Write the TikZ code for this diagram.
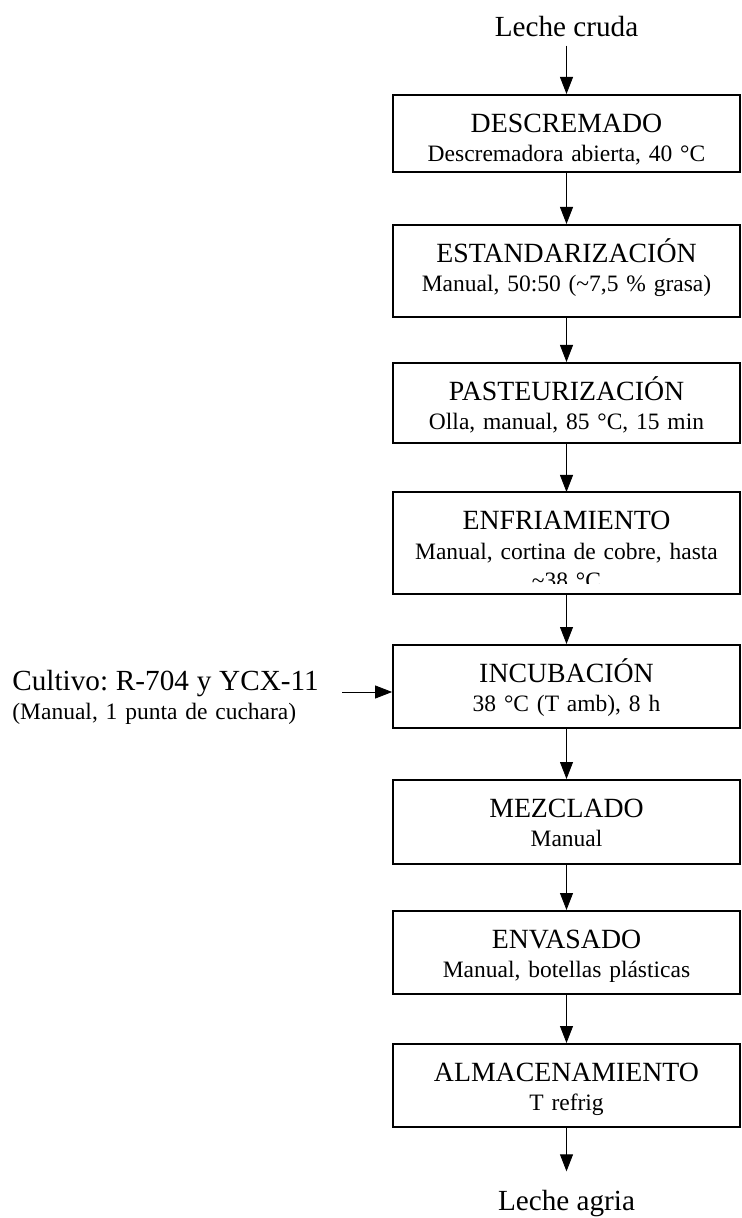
\documentclass[tikz,border=0pt]{standalone}
\usepackage{fontspec}
\setmainfont{Liberation Serif}
\usetikzlibrary{arrows.meta}
\frenchspacing
\newcommand\stagetitle{\fontsize{13.9}{14.75}\selectfont}
\newcommand\stagenote{\fontsize{11.75}{14.75}\selectfont}
\newcommand\flowend{\fontsize{14.6}{15}\selectfont}

\begin{document}
\begin{tikzpicture}[x=0.5pt,y=-0.5pt,>={Triangle[length=8.5pt,width=6.5pt]},
  stage/.style={draw,line width=0.9pt,text width=167pt,inner xsep=3.25pt,inner ysep=0pt,align=center,text height=18.75pt,anchor=north,font=\stagenote},
  io/.style={inner sep=4pt,anchor=base,font=\flowend}]
  \useasboundingbox (0,0) rectangle (741,1218);
  \node[io] (cruda) at (566.5,37) {Leche cruda};
  \node[stage,text depth=19.75pt] (desc) at (566.5,94) {{\stagetitle DESCREMADO}\\Descremadora abierta, 40 °C};
  \node[stage,text depth=27.25pt] (est) at (566.5,224) {{\stagetitle ESTANDARIZACIÓN}\\Manual, 50:50 (\textasciitilde7,5 \% grasa)};
  \node[stage,text depth=21.25pt] (past) at (566.5,362) {{\stagetitle PASTEURIZACIÓN}\\Olla, manual, 85 °C, 15 min};
  \begin{scope}
    \clip (380,480) rectangle (741,583);
    \node[stage,draw=none,outer sep=0pt,text depth=32.25pt] (enf) at (566.5,492) {{\stagetitle ENFRIAMIENTO}\\Manual, cortina de cobre, hasta\\\textasciitilde38 °C};
  \end{scope}
  \draw[line width=0.9pt] (enf.south west) rectangle (enf.north east);
  \node[stage,text depth=22.75pt] (inc) at (566.5,644) {{\stagetitle INCUBACIÓN}\\38 °C (T amb), 8 h};
  \node[stage,text depth=23.25pt] (mez) at (566.5,779) {{\stagetitle MEZCLADO}\\Manual};
  \node[stage,text depth=22.75pt] (env) at (566.5,910) {{\stagetitle ENVASADO}\\Manual, botellas plásticas};
  \node[stage,text depth=22.75pt] (alm) at (566.5,1043) {{\stagetitle ALMACENAMIENTO}\\T refrig};
  \node[io] (agria) at (566.5,1210) {Leche agria};
  \node[text width=200pt,align=left,anchor=north west,inner sep=0pt,text height=10pt,font=\stagenote] (cult) at (12,670) {{\flowend Cultivo: R-704 y YCX-11}\\(Manual, 1 punta de cuchara)};
  \coordinate (cultin) at (342,692);
  \draw[->] (cruda) -- (desc); \draw[->] (desc) -- (est); \draw[->] (est) -- (past);
  \draw[->] (past) -- (enf); \draw[->] (enf) -- (inc); \draw[->] (inc) -- (mez);
  \draw[->] (mez) -- (env); \draw[->] (env) -- (alm);
  \draw[->,shorten >=5pt] (alm) -- (agria);
  \draw[->] (cultin) -- (cultin -| inc.west);
\end{tikzpicture}
\end{document}
